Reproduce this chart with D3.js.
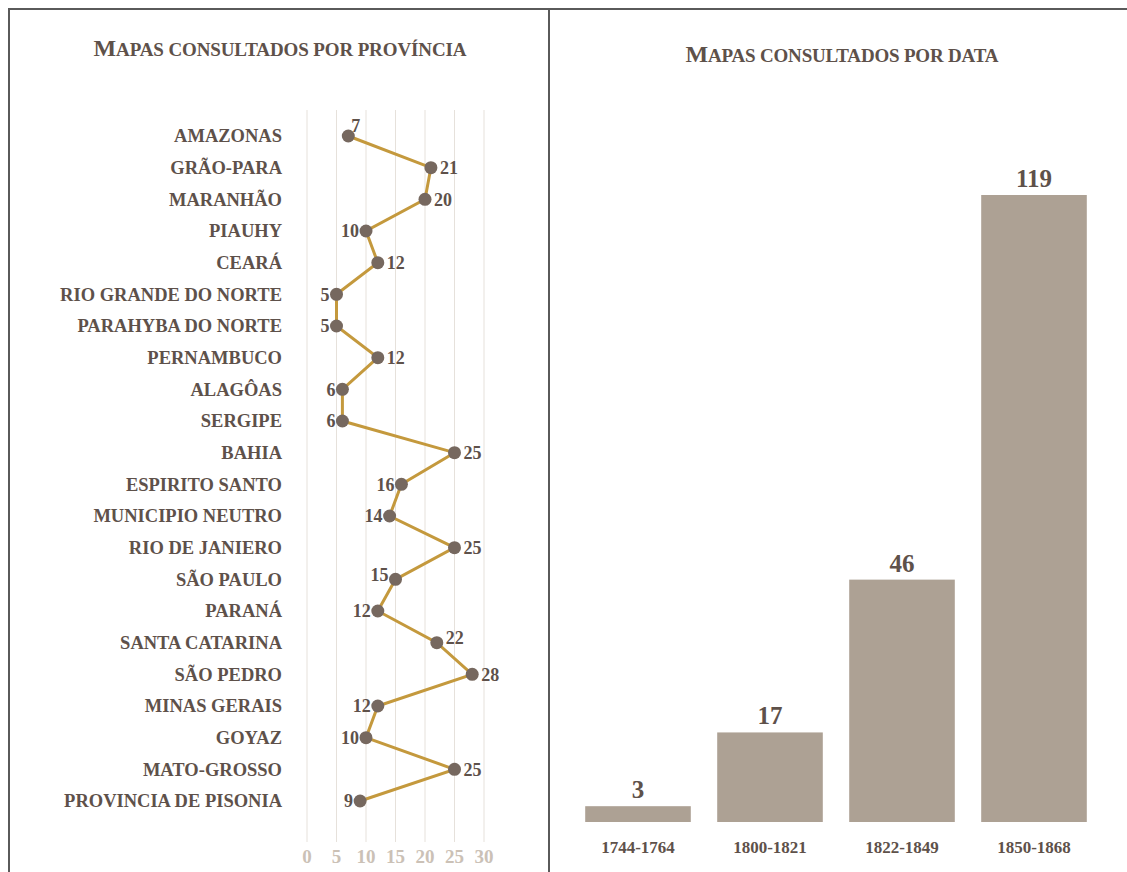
<!DOCTYPE html>
<html>
<head>
<meta charset="utf-8">
<script src="https://cdn.jsdelivr.net/npm/d3@7"></script>
<style>
  body { margin: 0; background: #fff; }
  svg text { font-family: "Liberation Serif", "DejaVu Serif", serif; font-weight: bold; }
</style>
</head>
<body>
<svg id="chart" width="1127" height="872"></svg>
<script>
// Provinces and the number of maps consulted for each
var provinces = ["AMAZONAS", "GRÃO-PARA", "MARANHÃO", "PIAUHY", "CEARÁ", "RIO GRANDE DO NORTE",
    "PARAHYBA DO NORTE", "PERNAMBUCO", "ALAGÔAS", "SERGIPE", "BAHIA", "ESPIRITO SANTO",
    "MUNICIPIO NEUTRO", "RIO DE JANIERO", "SÃO PAULO", "PARANÁ", "SANTA CATARINA",
    "SÃO PEDRO", "MINAS GERAIS", "GOYAZ", "MATO-GROSSO", "PROVINCIA DE PISONIA"];
var provinceMaps = [7, 21, 20, 10, 12, 5, 5, 12, 6, 6, 25, 16, 14, 25, 15, 12, 22, 28, 12, 10, 25, 9];
var provinceTicks = [0, 5, 10, 15, 20, 25, 30];

// Periods and the number of maps consulted for each
var periods = ["1744-1764", "1800-1821", "1822-1849", "1850-1868"];
var periodMaps = [3, 17, 46, 119];

var svg = d3.select('#chart');
var textColor = '#5e514a';

// Panel frames
svg.append('path')
    .attr('d', 'M9,872 V9 H1127 M549,9 V872')
    .attr('fill', 'none')
    .attr('stroke', '#5a5a5a')
    .attr('stroke-width', 2);

// title drawn as small caps: big first letter, smaller capitals after it
function smallCapsTitle(cx, cy, title, width) {
    var t = svg.append('text')
        .attr('x', cx)
        .attr('y', cy)
        .attr('text-anchor', 'middle')
        .attr('textLength', width)
        .attr('lengthAdjust', 'spacing')
        .style('fill', textColor);
    t.append('tspan').style('font-size', '24px').text(title[0].toUpperCase());
    t.append('tspan').style('font-size', '19px').text(title.slice(1).toUpperCase());
}

// ---- Left chart: maps by province ----
smallCapsTitle(280, 56, 'Mapas consultados por província', 373);

var x = d3.scaleLinear().domain([0, 30]).range([307, 484]);
var y = d3.scalePoint().domain(provinces).range([136, 801]);

// vertical grid lines
svg.append('g')
    .selectAll('line')
    .data(provinceTicks)
    .enter()
    .append('line')
    .attr('x1', d => x(d))
    .attr('x2', d => x(d))
    .attr('y1', 110)
    .attr('y2', 842)
    .attr('stroke', '#e6e1db')
    .attr('stroke-width', 1);

// tick labels
svg.append('g')
    .selectAll('text')
    .data(provinceTicks)
    .enter()
    .append('text')
    .attr('x', d => x(d))
    .attr('y', 863)
    .attr('text-anchor', 'middle')
    .style('font-size', '19px')
    .style('fill', '#cbc1b6')
    .text(d => d);

// province names
svg.append('g')
    .selectAll('text')
    .data(provinces)
    .enter()
    .append('text')
    .attr('x', 282)
    .attr('y', d => y(d))
    .attr('dy', '0.35em')
    .attr('text-anchor', 'end')
    .style('font-size', '18.5px')
    .style('fill', textColor)
    .text(d => d);

var points = provinces.map((p, i) => ({ name: p, value: provinceMaps[i] }));

var line = d3.line()
    .x(d => x(d.value))
    .y(d => y(d.name));

svg.append('path')
    .datum(points)
    .attr('d', line)
    .attr('fill', 'none')
    .attr('stroke', '#c4993d')
    .attr('stroke-width', 3);

svg.append('g')
    .selectAll('circle')
    .data(points)
    .enter()
    .append('circle')
    .attr('cx', d => x(d.value))
    .attr('cy', d => y(d.name))
    .attr('r', 6.5)
    .attr('fill', '#76685f');

// which side of the point each value label sits on
var labelSide = ['t', 'r', 'r', 'l', 'r', 'l', 'l', 'r', 'l', 'l', 'r', 'l',
    'l', 'r', 'tl', 'l', 'tr', 'r', 'l', 'l', 'r', 'l'];

svg.append('g')
    .selectAll('text')
    .data(points)
    .enter()
    .append('text')
    .attr('x', (d, i) => {
        var s = labelSide[i];
        if (s === 't') return x(d.value) + 3;
        if (s === 'r' || s === 'tr') return x(d.value) + 9;
        return x(d.value) - 7;
    })
    .attr('y', (d, i) => {
        var s = labelSide[i];
        if (s === 't') return y(d.name) - 10;
        if (s === 'tl' || s === 'tr') return y(d.name) - 5;
        return y(d.name);
    })
    .attr('dy', '0.35em')
    .attr('text-anchor', (d, i) => labelSide[i] === 'l' || labelSide[i] === 'tl' ? 'end' : 'start')
    .style('font-size', '18px')
    .style('fill', textColor)
    .text(d => d.value);

// ---- Right chart: maps by period ----
smallCapsTitle(842, 62, 'Mapas consultados por data', 313);

var xb = d3.scaleBand()
    .domain(periods)
    .range([572, 1100])
    .paddingInner(0.2)
    .paddingOuter(0.1);

var yb = d3.scaleLinear().domain([0, 119]).range([822, 195]);

var bars = periods.map((p, i) => ({ period: p, value: periodMaps[i] }));

svg.append('g')
    .selectAll('rect')
    .data(bars)
    .enter()
    .append('rect')
    .attr('x', d => xb(d.period))
    .attr('y', d => yb(d.value))
    .attr('width', xb.bandwidth())
    .attr('height', d => yb(0) - yb(d.value))
    .attr('fill', '#ada194');

svg.append('g')
    .selectAll('text')
    .data(bars)
    .enter()
    .append('text')
    .attr('x', d => xb(d.period) + xb.bandwidth() / 2)
    .attr('y', d => yb(d.value) - 8)
    .attr('text-anchor', 'middle')
    .style('font-size', '25px')
    .style('fill', textColor)
    .text(d => d.value);

svg.append('g')
    .selectAll('text')
    .data(periods)
    .enter()
    .append('text')
    .attr('x', d => xb(d) + xb.bandwidth() / 2)
    .attr('y', 853)
    .attr('text-anchor', 'middle')
    .style('font-size', '17px')
    .style('fill', textColor)
    .text(d => d);
</script>
</body>
</html>
